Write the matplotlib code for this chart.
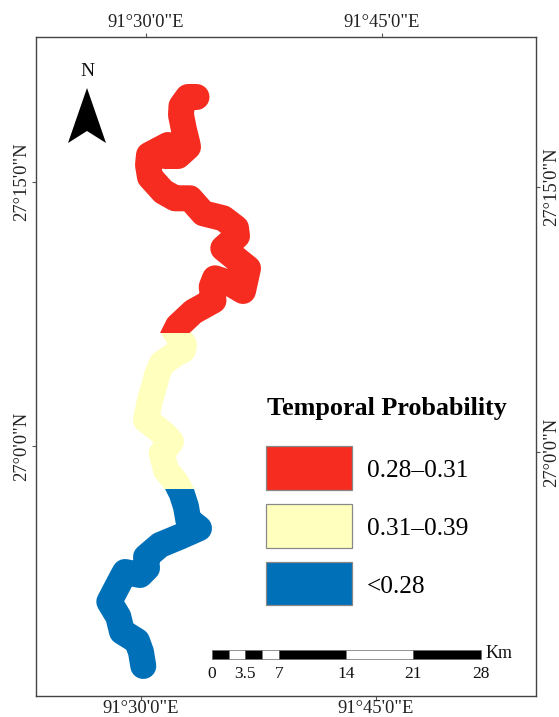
import matplotlib
matplotlib.use("Agg")
import matplotlib.pyplot as plt
from matplotlib.patches import Polygon, Rectangle

plt.rcParams['font.family'] = ['Liberation Serif', 'DejaVu Serif']

W, H = 559, 717
L, R, T, B = 36, 536, 37, 696

# River reach centre lines, digitised in map units
high_x = [196.5, 188, 181.5, 181, 184, 187, 188, 178, 165, 168, 149, 148, 150, 163.3, 175, 190, 203.3, 223.3, 236,
          237, 223.3, 241.7, 248, 243, 230, 215, 211.7, 213.5, 193.3, 178, 172, 176]
high_y = [97, 97, 106, 115, 130, 142, 147, 156, 156, 145, 155, 165, 177, 191.7, 198.3, 198.3, 213.3, 218.3, 228,
          236, 248.3, 263.3, 268.3, 291, 283.3, 278.3, 286.7, 300.5, 311.7, 326, 338, 350]
mid_x = [174, 184, 183, 176.7, 162, 157, 155, 150, 146, 156.7, 165, 171, 161.7, 166, 176.7, 181.7]
mid_y = [330, 345, 350, 353.3, 363.3, 375, 383.3, 400, 420, 428, 435, 441.7, 453.3, 470, 483.3, 493.3]
low_x = [176.7, 181.7, 186, 188.3, 199, 180, 160, 146, 147, 140, 125, 121.7, 109.3, 118.3, 122, 137, 141, 143.3]
low_y = [483.3, 493.3, 506.7, 520, 528.3, 536.7, 545, 557, 568, 575, 572, 578, 601.7, 616.7, 631.7, 641, 652, 666]

legend_title = "Temporal Probability"
legend_labels = ["0.28\u20130.31", "0.31\u20130.39", "<0.28"]
colors = ["#F52C1F", "#FFFFBE", "#0070B8"]

top_ticks = [145.7, 382]
bottom_ticks = [141, 375.5]
left_ticks = [181.5, 446]
right_ticks = [187, 452]
lon_labels = ["91\u00b030'0\"E", "91\u00b045'0\"E"]
lat_labels = ["27\u00b015'0\"N", "27\u00b00'0\"N"]

scale_km = [0, 1.75, 3.5, 5.25, 7, 14, 21, 28]
scale_labels = {0: "0", 3.5: "3.5", 7: "7", 14: "14", 21: "21", 28: "28"}

fig = plt.figure(figsize=(W / 100, H / 100), dpi=100)
ax = fig.add_axes([L / W, 1 - B / H, (R - L) / W, (B - T) / H])
ax.set_xlim(L, R)
ax.set_ylim(B, T)
for s in ax.spines.values():
    s.set_color("#444444")
    s.set_linewidth(1.0)

tick_style = dict(length=3, width=0.8, color="#555555", labelsize=13.4, labelcolor="#222222")
ax.set_xticks(bottom_ticks, lon_labels)
ax.set_yticks(left_ticks, lat_labels, rotation=90, va='center')
ax.tick_params(axis='x', pad=0, **tick_style)
ax.tick_params(axis='y', pad=1, **tick_style)

top = ax.secondary_xaxis('top')
top.set_xticks(top_ticks, lon_labels)
top.tick_params(pad=1, **tick_style)
top.spines['top'].set_visible(False)
right = ax.secondary_yaxis('right')
right.set_yticks(right_ticks, lat_labels, rotation=90, va='center')
right.tick_params(pad=2, **tick_style)
right.spines['right'].set_visible(False)

lw = 26 * 72 / 100
reaches = [(high_x, high_y, colors[0], T, 333), (mid_x, mid_y, colors[1], 333, 489), (low_x, low_y, colors[2], 489, B)]
for xs, ys, c, y0, y1 in reaches:
    line, = ax.plot(xs, ys, color=c, lw=lw, solid_capstyle='round', solid_joinstyle='round')
    line.set_clip_path(Rectangle((L, y0), R - L, y1 - y0, transform=ax.transData))

# Legend
ax.text(387, 408, legend_title, fontsize=18.8, fontweight='bold', ha='center', va='center', color='black')
for y0, y1, c, lab in zip([446, 504, 562], [489.5, 547.5, 605], colors, legend_labels):
    ax.add_patch(Rectangle((266, y0), 86, y1 - y0, facecolor=c, edgecolor="#888888", lw=0.9))
    ax.text(367, (y0 + y1) / 2 + 3.5, lab, fontsize=18.3, ha='left', va='center', color='black')

# North arrow
ax.add_patch(Polygon([(87, 88), (68, 143), (87, 131), (106, 143)], closed=True, facecolor='black', edgecolor='none'))
ax.text(87, 72, "N", fontsize=14, ha='center', va='center', color="#111111")

# Scale bar
sx0, sk = 211.7, 9.6
for i in range(len(scale_km) - 1):
    a, b = sx0 + scale_km[i] * sk, sx0 + scale_km[i + 1] * sk
    ax.add_patch(Rectangle((a, 650), b - a, 9.3, facecolor='black' if i % 2 == 0 else 'white',
                           edgecolor="#666666", lw=0.5))
for k, lab in scale_labels.items():
    ax.text(sx0 + k * sk, 674, lab, fontsize=12.5, ha='center', va='center', color="#111111")
ax.text(486, 654, "Km", fontsize=13, ha='left', va='center', color="#111111")

fig.savefig("out.png", dpi=100)
